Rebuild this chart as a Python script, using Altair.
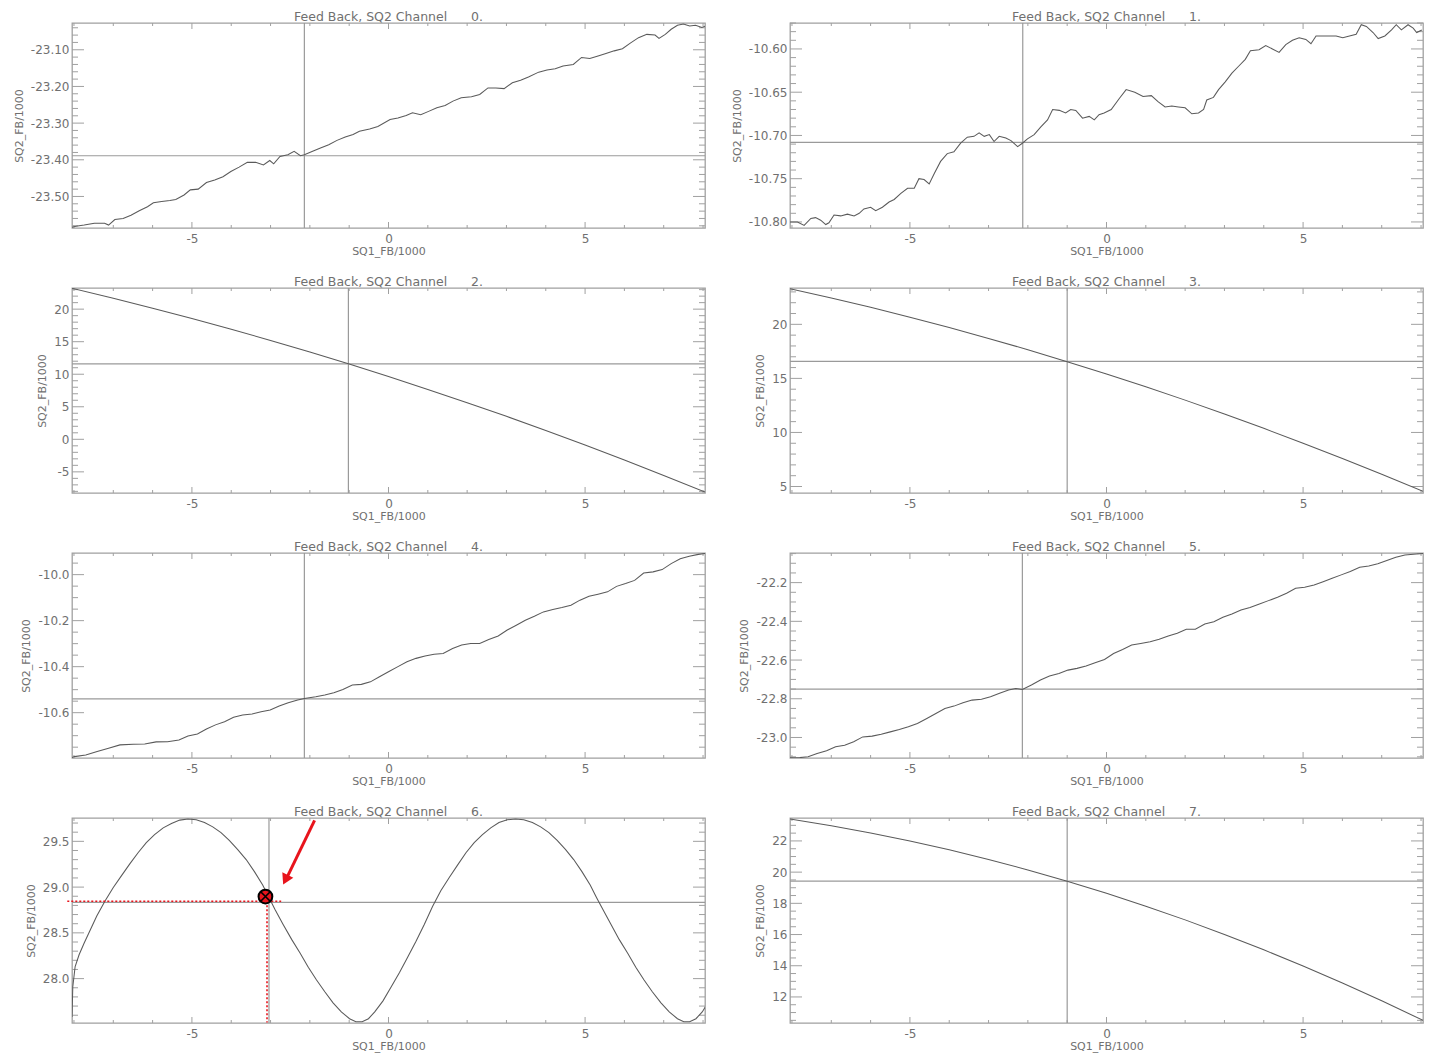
import altair as alt
import numpy as np
import pandas as pd

# ---------------- data ----------------
X_DOMAIN = [-8.05, 8.05]
X_MAJOR = [-5, 0, 5]
X_MINOR = [-8, -7, -6, -4, -3, -2, -1, 1, 2, 3, 4, 6, 7, 8]

ch0_x = [-8.05, -7.95, -7.74, -7.48, -7.22, -7.12, -6.96, -6.75, -6.55, -6.34, -6.13, -5.98, -5.77, -5.56,
         -5.41, -5.20, -5.04, -4.84, -4.63, -4.42, -4.21, -4.01, -3.80, -3.59, -3.38, -3.18, -3.02, -2.92,
         -2.76, -2.56, -2.40, -2.24, -2.14, -1.93, -1.73, -1.52, -1.31, -1.10, -0.90, -0.74, -0.48, -0.27,
         0.04, 0.24, 0.45, 0.61, 0.82, 1.02, 1.23, 1.44, 1.64, 1.85, 2.11, 2.32, 2.53, 2.73, 2.94, 3.15,
         3.36, 3.56, 3.82, 4.03, 4.24, 4.44, 4.70, 4.91, 5.12, 5.33, 5.53, 5.74, 5.95, 6.15, 6.36, 6.57,
         6.78, 6.88, 7.04, 7.19, 7.35, 7.50, 7.66, 7.81, 7.97, 8.05]
ch0_y = [-23.584, -23.581, -23.578, -23.573, -23.573, -23.578, -23.563, -23.560, -23.551, -23.539, -23.528,
         -23.517, -23.514, -23.511, -23.508, -23.496, -23.482, -23.480, -23.462, -23.455, -23.446, -23.432,
         -23.420, -23.407, -23.407, -23.414, -23.402, -23.411, -23.391, -23.386, -23.377, -23.389, -23.386,
         -23.377, -23.368, -23.359, -23.347, -23.338, -23.331, -23.322, -23.316, -23.309, -23.290, -23.286,
         -23.279, -23.272, -23.277, -23.268, -23.258, -23.252, -23.240, -23.231, -23.228, -23.222, -23.204,
         -23.204, -23.206, -23.190, -23.183, -23.174, -23.161, -23.155, -23.152, -23.144, -23.140, -23.121,
         -23.124, -23.117, -23.110, -23.103, -23.097, -23.082, -23.067, -23.058, -23.060, -23.069, -23.058,
         -23.044, -23.033, -23.030, -23.035, -23.033, -23.039, -23.036]

ch1_x = [-8.05, -7.86, -7.69, -7.52, -7.40, -7.27, -7.14, -7.06, -6.93, -6.76,
         -6.59, -6.42, -6.29, -6.17, -6.00, -5.87, -5.70, -5.53, -5.40, -5.23,
         -5.06, -4.89, -4.77, -4.64, -4.51, -4.38, -4.22, -4.05, -3.88, -3.71,
         -3.54, -3.37, -3.24, -3.11, -2.98, -2.86, -2.73, -2.56, -2.43, -2.26,
         -2.14, -2.01, -1.84, -1.67, -1.50, -1.37, -1.20, -1.04, -0.91, -0.78,
         -0.61, -0.44, -0.31, -0.19, -0.06, 0.12, 0.33, 0.50, 0.72, 0.93,
         1.14, 1.31, 1.49, 1.66, 1.83, 2.00, 2.17, 2.34, 2.47, 2.55,
         2.72, 2.85, 3.02, 3.19, 3.36, 3.53, 3.66, 3.88, 4.05, 4.22,
         4.39, 4.56, 4.73, 4.90, 5.07, 5.20, 5.33, 5.50, 5.67, 5.84,
         6.01, 6.18, 6.35, 6.48, 6.61, 6.78, 6.91, 7.08, 7.25, 7.37,
         7.50, 7.67, 7.80, 7.89, 8.02]
ch1_y = [-10.800, -10.800, -10.804, -10.796, -10.795, -10.798, -10.803, -10.801, -10.792, -10.793,
         -10.791, -10.793, -10.790, -10.785, -10.783, -10.787, -10.783, -10.777, -10.774, -10.767,
         -10.761, -10.761, -10.750, -10.751, -10.756, -10.744, -10.730, -10.721, -10.719, -10.709,
         -10.702, -10.701, -10.697, -10.701, -10.699, -10.707, -10.701, -10.703, -10.706, -10.713,
         -10.709, -10.704, -10.699, -10.690, -10.682, -10.670, -10.671, -10.674, -10.670, -10.671,
         -10.680, -10.678, -10.682, -10.676, -10.674, -10.670, -10.657, -10.647, -10.650, -10.655,
         -10.654, -10.661, -10.667, -10.666, -10.667, -10.668, -10.675, -10.674, -10.670, -10.659,
         -10.656, -10.647, -10.638, -10.628, -10.620, -10.612, -10.602, -10.601, -10.596, -10.600,
         -10.604, -10.595, -10.590, -10.587, -10.589, -10.594, -10.585, -10.585, -10.585, -10.585,
         -10.587, -10.585, -10.583, -10.572, -10.574, -10.581, -10.588, -10.585, -10.578, -10.572,
         -10.578, -10.572, -10.576, -10.581, -10.578]

smooth_x = [-8.05, -7, -6, -5, -4, -3, -2, -1, 0, 1, 2, 3, 4, 5, 6, 7, 8.05]
ch2_y = [23.20, 21.67, 20.15, 18.56, 16.91, 15.19, 13.41, 11.56, 9.65, 7.67, 5.63, 3.53, 1.36, -0.88, -3.18, -5.55, -8.10]
ch3_y = [23.30, 22.44, 21.57, 20.66, 19.70, 18.70, 17.65, 16.55, 15.41, 14.22, 12.99, 11.71, 10.38, 9.01, 7.60, 6.13, 4.55]
ch7_y = [23.40, 22.97, 22.51, 22.00, 21.43, 20.81, 20.14, 19.42, 18.65, 17.82, 16.94, 16.01, 15.02, 13.99, 12.90, 11.76, 10.50]

ch4_x = [-8.05, -7.99, -7.70, -7.41, -7.12, -6.83, -6.49, -6.20, -5.91, -5.62,
         -5.33, -5.10, -4.86, -4.63, -4.40, -4.17, -3.94, -3.71, -3.47, -3.24,
         -3.01, -2.78, -2.55, -2.31, -2.14, -1.85, -1.62, -1.39, -1.16, -0.92,
         -0.69, -0.46, -0.23, 0.00, 0.24, 0.47, 0.70, 0.93, 1.16, 1.39,
         1.63, 1.86, 2.09, 2.32, 2.55, 2.79, 3.02, 3.25, 3.48, 3.71,
         3.94, 4.18, 4.41, 4.64, 4.87, 5.10, 5.33, 5.57, 5.80, 6.03,
         6.26, 6.49, 6.73, 6.96, 7.19, 7.42, 7.65, 7.88, 8.05]
ch4_y = [-10.795, -10.791, -10.784, -10.769, -10.755, -10.740, -10.737, -10.736, -10.727, -10.726,
         -10.719, -10.701, -10.693, -10.671, -10.653, -10.639, -10.620, -10.610, -10.606, -10.596,
         -10.588, -10.571, -10.557, -10.545, -10.538, -10.531, -10.523, -10.513, -10.499, -10.480,
         -10.477, -10.466, -10.444, -10.422, -10.400, -10.379, -10.364, -10.354, -10.346, -10.343,
         -10.321, -10.306, -10.299, -10.299, -10.282, -10.267, -10.241, -10.220, -10.198, -10.181,
         -10.162, -10.152, -10.143, -10.133, -10.111, -10.094, -10.085, -10.075, -10.051, -10.039,
         -10.025, -9.993, -9.988, -9.978, -9.952, -9.931, -9.920, -9.912, -9.908]

ch5_x = [-8.05, -7.80, -7.59, -7.36, -7.12, -6.89, -6.66, -6.43, -6.20, -5.96,
         -5.73, -5.50, -5.27, -5.04, -4.81, -4.57, -4.34, -4.11, -3.88, -3.65,
         -3.42, -3.18, -2.95, -2.72, -2.49, -2.31, -2.14, -1.91, -1.68, -1.45,
         -1.21, -0.98, -0.75, -0.52, -0.29, -0.05, 0.18, 0.41, 0.64, 0.87,
         1.11, 1.34, 1.57, 1.80, 2.03, 2.26, 2.50, 2.73, 2.96, 3.19,
         3.42, 3.65, 3.89, 4.12, 4.35, 4.58, 4.81, 5.04, 5.28, 5.51,
         5.74, 5.97, 6.20, 6.44, 6.67, 6.90, 7.13, 7.36, 7.59, 7.88, 8.05]
ch5_y = [-23.105, -23.104, -23.100, -23.083, -23.069, -23.048, -23.040, -23.022, -22.997, -22.993,
         -22.983, -22.971, -22.959, -22.945, -22.928, -22.902, -22.876, -22.850, -22.838, -22.821,
         -22.807, -22.803, -22.790, -22.772, -22.755, -22.747, -22.752, -22.729, -22.703, -22.683,
         -22.669, -22.652, -22.643, -22.631, -22.614, -22.597, -22.566, -22.545, -22.522, -22.514,
         -22.505, -22.493, -22.476, -22.462, -22.441, -22.441, -22.414, -22.402, -22.379, -22.362,
         -22.341, -22.328, -22.310, -22.293, -22.276, -22.255, -22.229, -22.224, -22.212, -22.195,
         -22.178, -22.160, -22.143, -22.121, -22.114, -22.103, -22.086, -22.069, -22.057, -22.052, -22.050]

ch6_x = [-8.05, -8.03, -7.97, -7.87, -7.74, -7.58, -7.42, -7.21, -7.00, -6.79,
         -6.58, -6.37, -6.16, -5.95, -5.73, -5.52, -5.31, -5.10, -4.89, -4.68,
         -4.47, -4.26, -4.05, -3.84, -3.62, -3.41, -3.20, -3.04, -2.89, -2.68,
         -2.46, -2.25, -2.04, -1.83, -1.62, -1.41, -1.20, -0.99, -0.83, -0.67,
         -0.51, -0.35, -0.14, 0.07, 0.28, 0.49, 0.70, 0.91, 1.12, 1.33,
         1.55, 1.76, 1.97, 2.18, 2.39, 2.60, 2.81, 3.02, 3.23, 3.44,
         3.66, 3.87, 4.08, 4.29, 4.50, 4.71, 4.92, 5.13, 5.29, 5.45,
         5.66, 5.87, 6.08, 6.29, 6.50, 6.71, 6.93, 7.14, 7.35, 7.51,
         7.66, 7.82, 7.98, 8.06]
ch6_y = [27.581, 27.912, 28.132, 28.261, 28.390, 28.537, 28.684, 28.849, 28.996, 29.125,
         29.254, 29.375, 29.485, 29.574, 29.647, 29.695, 29.732, 29.743, 29.735, 29.706,
         29.658, 29.596, 29.511, 29.412, 29.301, 29.169, 29.022, 28.886, 28.757, 28.592,
         28.426, 28.279, 28.125, 27.985, 27.857, 27.735, 27.636, 27.562, 27.529, 27.529,
         27.562, 27.636, 27.757, 27.912, 28.066, 28.235, 28.408, 28.592, 28.787, 28.960,
         29.107, 29.243, 29.375, 29.485, 29.574, 29.647, 29.706, 29.735, 29.743, 29.735,
         29.706, 29.658, 29.596, 29.511, 29.412, 29.301, 29.169, 29.022, 28.886, 28.757,
         28.592, 28.426, 28.279, 28.125, 27.985, 27.857, 27.735, 27.636, 27.562, 27.529,
         27.529, 27.562, 27.636, 27.691]

# annotation on channel 6 (data coordinates)
ann_hline = {"x": [-8.17], "x2": [-2.73], "y": [28.846]}
ann_vline = {"x": [-3.09], "y": [28.846], "y2": [27.52]}
ann_marker = {"x": [-3.13], "y": [28.897]}
ann_arrow = {"x": [-1.88], "y": [29.73], "x2": [-2.60], "y2": [29.09]}
ann_head = {"x": [-2.62], "y": [29.08]}

PANELS = [
    dict(ch=0, x=ch0_x, y=ch0_y, dom=[-23.586, -23.027], major=[-23.5, -23.4, -23.3, -23.2, -23.1], step=0.02, fmt=".2f", vx=-2.14, hy=-23.389),
    dict(ch=1, x=ch1_x, y=ch1_y, dom=[-10.807, -10.570], major=[-10.80, -10.75, -10.70, -10.65, -10.60], step=0.01, fmt=".2f", vx=-2.13, hy=-10.708),
    dict(ch=2, x=smooth_x, y=ch2_y, dom=[-8.25, 23.25], major=[-5, 0, 5, 10, 15, 20], step=1, fmt="d", vx=-1.02, hy=11.6),
    dict(ch=3, x=smooth_x, y=ch3_y, dom=[4.40, 23.36], major=[5, 10, 15, 20], step=1, fmt="d", vx=-1.0, hy=16.58),
    dict(ch=4, x=ch4_x, y=ch4_y, dom=[-10.797, -9.906], major=[-10.6, -10.4, -10.2, -10.0], step=0.05, fmt=".1f", vx=-2.14, hy=-10.540),
    dict(ch=5, x=ch5_x, y=ch5_y, dom=[-23.106, -22.047], major=[-23.0, -22.8, -22.6, -22.4, -22.2], step=0.05, fmt=".1f", vx=-2.14, hy=-22.750),
    dict(ch=6, x=ch6_x, y=ch6_y, dom=[27.515, 29.755], major=[28.0, 28.5, 29.0, 29.5], step=0.1, fmt=".1f", vx=-3.04, hy=28.832),
    dict(ch=7, x=smooth_x, y=ch7_y, dom=[10.33, 23.47], major=[12, 14, 16, 18, 20, 22], step=0.5, fmt="d", vx=-1.0, hy=19.42),
]

# ---------------- styling ----------------
W, H = 633, 205
LINE = "#5a5a5a"
FRAME = "#a0a0a0"
CROSS = "#9a9a9a"
TEXT = "#707070"
RED = "#e8141c"
FONT = "DejaVu Sans"


def minor_ticks(dom, step, major):
    lo, hi = dom
    k0 = int(np.ceil(lo / step - 1e-9))
    k1 = int(np.floor(hi / step + 1e-9))
    vals = [round(k * step, 6) for k in range(k0, k1 + 1)]
    return [v for v in vals if all(abs(v - m) > step / 10 for m in major)]


def panel(p):
    xsc = alt.Scale(domain=X_DOMAIN, nice=False, zero=False)
    ysc = alt.Scale(domain=p["dom"], nice=False, zero=False)
    xax = alt.Axis(values=X_MAJOR, format="d", title="SQ1_FB/1000", labelPadding=5, titlePadding=1)
    yax = alt.Axis(values=p["major"], format=p["fmt"], title="SQ2_FB/1000", labelPadding=3, titlePadding=6)
    X = alt.X("x:Q", scale=xsc, axis=xax)
    Y = alt.Y("y:Q", scale=ysc, axis=yax)

    def tick(d):
        return alt.Chart(pd.DataFrame(d)).mark_rule(color=FRAME, strokeWidth=1)

    ymin = minor_ticks(p["dom"], p["step"], p["major"])
    layers = [
        tick({"x": X_MAJOR}).encode(x=X, y=alt.value(H - 6), y2=alt.value(H)),
        tick({"x": X_MAJOR}).encode(x=X, y=alt.value(0), y2=alt.value(6)),
        tick({"x": X_MINOR}).encode(x=X, y=alt.value(H - 3), y2=alt.value(H)),
        tick({"x": X_MINOR}).encode(x=X, y=alt.value(0), y2=alt.value(3)),
        tick({"y": p["major"]}).encode(y=Y, x=alt.value(0), x2=alt.value(12)),
        tick({"y": p["major"]}).encode(y=Y, x=alt.value(W - 12), x2=alt.value(W)),
        tick({"y": ymin}).encode(y=Y, x=alt.value(0), x2=alt.value(6)),
        tick({"y": ymin}).encode(y=Y, x=alt.value(W - 6), x2=alt.value(W)),
        alt.Chart(pd.DataFrame({"x": [p["vx"]]})).mark_rule(color=CROSS, strokeWidth=1.2).encode(x=X),
        alt.Chart(pd.DataFrame({"y": [p["hy"]]})).mark_rule(color=CROSS, strokeWidth=1.2).encode(y=Y),
        alt.Chart(pd.DataFrame({"x": p["x"], "y": p["y"]})).mark_line(
            clip=True, color=LINE, strokeWidth=1.05).encode(x=X, y=Y),
    ]
    if p["ch"] == 6:
        layers += [
            alt.Chart(pd.DataFrame(ann_hline)).mark_rule(color=RED, strokeWidth=1.6, strokeDash=[2, 2]).encode(
                x=X, x2="x2:Q", y=Y),
            alt.Chart(pd.DataFrame(ann_vline)).mark_rule(color=RED, strokeWidth=1.6, strokeDash=[2, 2]).encode(
                x=X, y=Y, y2="y2:Q"),
            alt.Chart(pd.DataFrame(ann_marker)).mark_point(
                shape="circle", filled=True, fill=RED, stroke="black", strokeWidth=2, size=190, opacity=1
            ).encode(x=X, y=Y),
            alt.Chart(pd.DataFrame(ann_marker)).mark_point(
                shape="M-1,-1L1,1M-1,1L1,-1", filled=False, stroke="black", strokeWidth=1.6, size=100, opacity=1
            ).encode(x=X, y=Y),
            alt.Chart(pd.DataFrame(ann_arrow)).mark_rule(color=RED, strokeWidth=3).encode(
                x=X, y=Y, x2="x2:Q", y2="y2:Q"),
            alt.Chart(pd.DataFrame(ann_head)).mark_point(
                shape="triangle-up", filled=True, color=RED, size=150, angle=206, opacity=1
            ).encode(x=X, y=Y),
        ]
    title = "Feed Back, SQ2 Channel" + "\u00a0" * 6 + f"{p['ch']}."
    return alt.layer(*layers).properties(width=W, height=H, title=title)


charts = [panel(p) for p in PANELS]

chart = (
    alt.concat(*charts, columns=2, spacing={"row": 17, "column": 23})
    .properties(padding={"left": 12, "top": 9, "right": 5, "bottom": 3})
    .configure(
        background="white",
        locale={"number": {"decimal": ".", "thousands": ",", "grouping": [3],
                           "currency": ["", ""], "minus": "-"}},
    )
    .configure_view(stroke=FRAME, strokeWidth=1.3)
    .configure_axis(
        domain=False, ticks=False, grid=False,
        labelFont=FONT, labelFontSize=12, labelColor=TEXT,
        titleFont=FONT, titleFontSize=11, titleFontWeight="normal", titleColor=TEXT,
    )
    .configure_title(font=FONT, fontSize=12.5, fontWeight="normal", color=TEXT, offset=-0.6, anchor="middle")
)

chart.save("out.html", embed_options={"renderer": "svg", "actions": False})
